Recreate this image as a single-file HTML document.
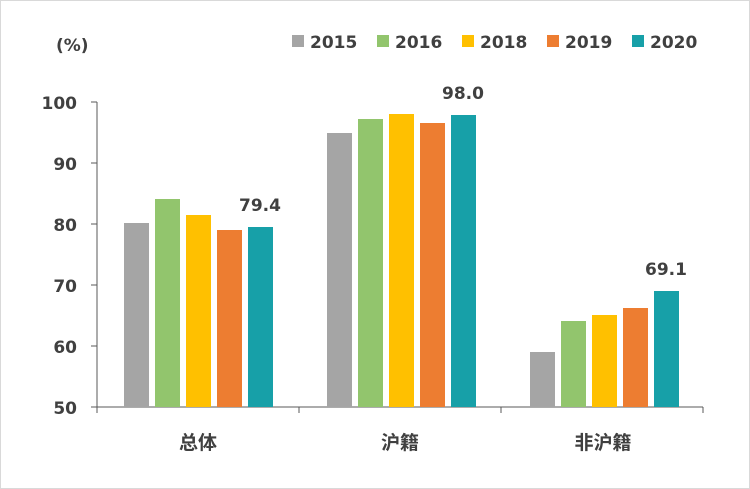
<!DOCTYPE html>
<html><head><meta charset="utf-8"><style>
html,body{margin:0;padding:0;background:#fff;}
svg{display:block;}
text{font-family:"DejaVu Sans","Noto Sans CJK SC",sans-serif;fill:#404040;}
.cjk{font-family:"Noto Sans CJK SC",sans-serif;}
</style></head><body>
<svg width="750" height="489" viewBox="0 0 750 489" xmlns="http://www.w3.org/2000/svg">
<rect x="0.5" y="0.5" width="749" height="488" fill="#fff" stroke="#d9d9d9"/>
<text x="56" y="51" font-size="17" font-weight="bold">(%)</text>
<g font-size="17" font-weight="bold">
<rect x="292" y="35" width="12" height="12" fill="#a5a5a5"/><text x="310" y="48">2015</text>
<rect x="377" y="35" width="12" height="12" fill="#92c56d"/><text x="395" y="48">2016</text>
<rect x="462" y="35" width="12" height="12" fill="#ffc000"/><text x="480" y="48">2018</text>
<rect x="547" y="35" width="12" height="12" fill="#ed7d31"/><text x="565" y="48">2019</text>
<rect x="632" y="35" width="12" height="12" fill="#17a0a8"/><text x="650" y="48">2020</text>
</g>
<g stroke="#595959" stroke-width="1">
<line x1="97" y1="102" x2="97" y2="407"/>
<line x1="91" y1="102" x2="97" y2="102"/>
<line x1="91" y1="163" x2="97" y2="163"/>
<line x1="91" y1="224" x2="97" y2="224"/>
<line x1="91" y1="285" x2="97" y2="285"/>
<line x1="91" y1="346" x2="97" y2="346"/>
<line x1="91" y1="407" x2="703" y2="407"/>
<line x1="299" y1="407" x2="299" y2="413"/>
<line x1="501" y1="407" x2="501" y2="413"/>
<line x1="703" y1="407" x2="703" y2="413"/>
<line x1="97" y1="407" x2="97" y2="413"/>
</g>
<g font-size="17" font-weight="bold" text-anchor="end">
<text x="77" y="109">100</text><text x="77" y="170">90</text><text x="77" y="231">80</text>
<text x="77" y="292">70</text><text x="77" y="353">60</text><text x="77" y="414">50</text>
</g>
<g>
<rect x="124" y="223" width="25" height="184" fill="#a5a5a5"/>
<rect x="155" y="199" width="25" height="208" fill="#92c56d"/>
<rect x="186" y="215" width="25" height="192" fill="#ffc000"/>
<rect x="217" y="230" width="25" height="177" fill="#ed7d31"/>
<rect x="248" y="227" width="25" height="180" fill="#17a0a8"/>
<rect x="327" y="133" width="25" height="274" fill="#a5a5a5"/>
<rect x="358" y="119" width="25" height="288" fill="#92c56d"/>
<rect x="389" y="114" width="25" height="293" fill="#ffc000"/>
<rect x="420" y="123" width="25" height="284" fill="#ed7d31"/>
<rect x="451" y="115" width="25" height="292" fill="#17a0a8"/>
<rect x="530" y="352" width="25" height="55" fill="#a5a5a5"/>
<rect x="561" y="321" width="25" height="86" fill="#92c56d"/>
<rect x="592" y="315" width="25" height="92" fill="#ffc000"/>
<rect x="623" y="308" width="25" height="99" fill="#ed7d31"/>
<rect x="654" y="291" width="25" height="116" fill="#17a0a8"/>
</g>
<g font-size="17" font-weight="bold" text-anchor="middle">
<text x="260" y="211">79.4</text>
<text x="463" y="99">98.0</text>
<text x="666" y="275">69.1</text>
</g>
<g font-size="19" font-weight="bold" text-anchor="middle" class="cjk">
<text class="cjk" x="198" y="449">总体</text>
<text class="cjk" x="400" y="449">沪籍</text>
<text class="cjk" x="603" y="449">非沪籍</text>
</g>
</svg>
</body></html>
